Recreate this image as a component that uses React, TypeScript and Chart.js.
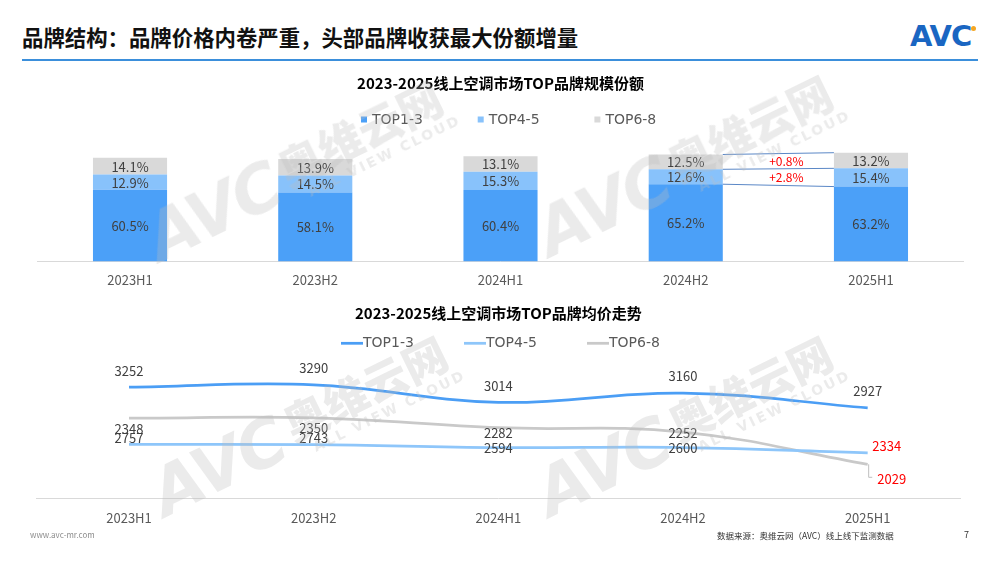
import React, { useEffect, useRef } from "react";
import { Chart, registerables } from "chart.js";

Chart.register(...registerables);

const FONT = "'Noto Sans CJK SC', 'Noto Sans', sans-serif";
const LEGEND_FONT = "'DejaVu Sans', 'Noto Sans', sans-serif";

// ---------- data ----------
const CATEGORIES = ["2023H1", "2023H2", "2024H1", "2024H2", "2025H1"];
const SERIES_NAMES = ["TOP1-3", "TOP4-5", "TOP6-8"];

const SHARE_TOP1_3 = [60.5, 58.1, 60.4, 65.2, 63.2];
const SHARE_TOP4_5 = [12.9, 14.5, 15.3, 12.6, 15.4];
const SHARE_TOP6_8 = [14.1, 13.9, 13.1, 12.5, 13.2];
const SHARE_CHANGE_LABELS = ["+0.8%", "+2.8%"]; // TOP6-8, TOP4-5 : 2024H2 -> 2025H1

const PRICE_TOP1_3 = [3252, 3290, 3014, 3160, 2927];
const PRICE_TOP4_5 = [2757, 2743, 2594, 2600, 2334];
const PRICE_TOP6_8 = [2348, 2350, 2282, 2252, 2029];

const BAR_TITLE = "2023-2025线上空调市场TOP品牌规模份额";
const LINE_TITLE = "2023-2025线上空调市场TOP品牌均价走势";
const PAGE_TITLE = "品牌结构：品牌价格内卷严重，头部品牌收获最大份额增量";
const SOURCE_TEXT = "数据来源：奥维云网（AVC）线上线下监测数据";

// ---------- styles ----------
const BAR_COLORS = ["#4BA0F8", "#88C2FB", "#D9D9D9"];
const LINE_COLORS = ["#4B9EF5", "#8EC6FA", "#C9C9C9"];
const LABEL_COLOR = "#404040";
const AXIS_LABEL_COLOR = "#595959";

const LINE_LABEL_STYLES = [
  { dx: [0, 0, 0, 0, 0], dy: [-17, -17, -17, -17, -17], colors: [LABEL_COLOR, LABEL_COLOR, LABEL_COLOR, LABEL_COLOR, LABEL_COLOR], leader: [false, false, false, false, false] },
  { dx: [0, 0, 0, 0, 19], dy: [-7, -7, 0, 0, -7], colors: [LABEL_COLOR, LABEL_COLOR, LABEL_COLOR, LABEL_COLOR, "#FF0000"], leader: [false, false, false, false, false] },
  { dx: [0, 0, 0, 0, 24], dy: [10, 10, 5, 1, 14], colors: [LABEL_COLOR, LABEL_COLOR, LABEL_COLOR, LABEL_COLOR, "#FF0000"], leader: [false, false, false, false, true] },
];

// ---------- plugins ----------
const customLegend = {
  id: "customLegend",
  afterDraw(chart: any, _args: any, opts: any) {
    const { ctx } = chart;
    ctx.save();
    ctx.font = `${opts.fontSize}px ${LEGEND_FONT}`;
    ctx.textBaseline = "middle";
    ctx.textAlign = "left";
    chart.data.datasets.forEach((ds: any, i: number) => {
      const x = opts.startX + i * opts.pitch;
      const y = opts.y;
      if (opts.kind === "box") {
        ctx.fillStyle = ds.backgroundColor;
        ctx.fillRect(x, y - opts.box / 2, opts.box, opts.box);
      } else {
        ctx.strokeStyle = ds.borderColor;
        ctx.lineWidth = opts.lineWidth;
        ctx.beginPath();
        ctx.moveTo(x, y);
        ctx.lineTo(x + opts.lineLen, y);
        ctx.stroke();
      }
      ctx.fillStyle = opts.color;
      ctx.fillText(ds.label, x + opts.textOffset, y + 0.5);
    });
    ctx.restore();
  },
};

const barValueLabels = {
  id: "barValueLabels",
  afterDatasetsDraw(chart: any, _args: any, opts: any) {
    const { ctx } = chart;
    ctx.save();
    ctx.font = `${opts.fontSize}px ${FONT}`;
    ctx.fillStyle = opts.color;
    ctx.textAlign = "center";
    ctx.textBaseline = "middle";
    chart.data.datasets.forEach((ds: any, di: number) => {
      const meta = chart.getDatasetMeta(di);
      meta.data.forEach((el: any, i: number) => {
        ctx.fillText(Number(ds.data[i]).toFixed(1) + "%", el.x, (el.y + el.base) / 2 + 0.5);
      });
    });
    ctx.restore();
  },
};

const shareChange = {
  id: "shareChange",
  afterDatasetsDraw(chart: any, _args: any, opts: any) {
    const { ctx } = chart;
    const n = chart.data.labels.length;
    const a = n - 2;
    const b = n - 1;
    const metas = chart.data.datasets.map((_: any, di: number) => chart.getDatasetMeta(di));
    const ea = metas.map((m: any) => m.data[a]);
    const eb = metas.map((m: any) => m.data[b]);
    const xa = ea[0].x + ea[0].width / 2;
    const xb = eb[0].x - eb[0].width / 2;
    ctx.save();
    ctx.strokeStyle = opts.lineColor;
    ctx.lineWidth = 1;
    for (let di = 0; di < metas.length; di++) {
      ctx.beginPath();
      ctx.moveTo(xa, ea[di].y);
      ctx.lineTo(xb, eb[di].y);
      ctx.stroke();
    }
    ctx.font = `${opts.fontSize}px ${FONT}`;
    ctx.fillStyle = opts.color;
    ctx.textAlign = "center";
    ctx.textBaseline = "middle";
    const bands = [2, 1];
    bands.forEach((di, k) => {
      const yTop = (ea[di].y + eb[di].y) / 2;
      const yBot = (ea[di].base + eb[di].base) / 2;
      ctx.fillText(opts.labels[k], (xa + xb) / 2 + opts.dx, (yTop + yBot) / 2 + 0.5);
    });
    ctx.restore();
  },
};

const lineValueLabels = {
  id: "lineValueLabels",
  afterDatasetsDraw(chart: any, _args: any, opts: any) {
    const { ctx } = chart;
    ctx.save();
    ctx.font = `${opts.fontSize}px ${FONT}`;
    ctx.textAlign = "center";
    ctx.textBaseline = "middle";
    chart.data.datasets.forEach((ds: any, di: number) => {
      const st = opts.styles[di];
      const meta = chart.getDatasetMeta(di);
      meta.data.forEach((pt: any, i: number) => {
        const text = String(ds.data[i]);
        const x = pt.x + st.dx[i];
        const y = pt.y + st.dy[i];
        if (st.leader[i]) {
          const w = ctx.measureText(text).width;
          ctx.strokeStyle = opts.leaderColor;
          ctx.lineWidth = 1;
          ctx.beginPath();
          ctx.moveTo(pt.x + 1, pt.y);
          ctx.lineTo(pt.x + 1, y - 1);
          ctx.lineTo(x - w / 2 - 5, y - 1);
          ctx.stroke();
        }
        ctx.fillStyle = st.colors[i];
        ctx.fillText(text, x, y + 0.5);
      });
    });
    ctx.restore();
  },
};

// ---------- charts ----------
function BarChart() {
  const ref = useRef<HTMLCanvasElement | null>(null);
  useEffect(() => {
    const chart = new Chart(ref.current as HTMLCanvasElement, {
      type: "bar",
      data: {
        labels: CATEGORIES,
        datasets: [
          { label: SERIES_NAMES[0], data: SHARE_TOP1_3, backgroundColor: BAR_COLORS[0] },
          { label: SERIES_NAMES[1], data: SHARE_TOP4_5, backgroundColor: BAR_COLORS[1] },
          { label: SERIES_NAMES[2], data: SHARE_TOP6_8, backgroundColor: BAR_COLORS[2] },
        ],
      },
      options: {
        animation: false,
        responsive: false,
        events: [],
        layout: { padding: { left: 37.4, right: 36.4, top: 0, bottom: 0 } },
        datasets: { bar: { barPercentage: 0.4, categoryPercentage: 1 } },
        scales: {
          x: {
            stacked: true,
            grid: { display: false, drawTicks: false },
            border: { display: true, color: "#D9D9D9", width: 1 },
            ticks: { padding: 11, color: AXIS_LABEL_COLOR, font: { size: 13, family: FONT } },
          },
          y: { stacked: true, display: false, min: 0, max: 100 },
        },
        plugins: {
          legend: { display: false },
          tooltip: { enabled: false },
          title: {
            display: true,
            text: BAR_TITLE,
            color: "#000000",
            font: { size: 15, weight: "bold", family: FONT },
            padding: { top: 12, bottom: 51 },
          },
          customLegend: { kind: "box", startX: 361, pitch: 116.7, y: 57.5, box: 6, textOffset: 11, fontSize: 14, color: AXIS_LABEL_COLOR },
          barValueLabels: { fontSize: 13, color: LABEL_COLOR },
          shareChange: { labels: SHARE_CHANGE_LABELS, lineColor: "#5A87C6", color: "#FF0000", fontSize: 12, dx: 8 },
        } as any,
      },
      plugins: [customLegend, barValueLabels, shareChange] as any,
    });
    return () => chart.destroy();
  }, []);
  return <canvas ref={ref} width={1000} height={237} style={{ position: "absolute", left: 0, top: 62, width: 1000, height: 237 }} />;
}

function LineChart() {
  const ref = useRef<HTMLCanvasElement | null>(null);
  useEffect(() => {
    const common = { borderWidth: 2.75, pointRadius: 0, tension: 0.4, fill: false };
    const chart = new Chart(ref.current as HTMLCanvasElement, {
      type: "line",
      data: {
        labels: CATEGORIES,
        datasets: [
          { ...common, label: SERIES_NAMES[0], data: PRICE_TOP1_3, borderColor: LINE_COLORS[0], yAxisID: "yA" },
          { ...common, label: SERIES_NAMES[1], data: PRICE_TOP4_5, borderColor: LINE_COLORS[1], yAxisID: "yB" },
          { ...common, label: SERIES_NAMES[2], data: PRICE_TOP6_8, borderColor: LINE_COLORS[2], yAxisID: "yC" },
        ],
      },
      options: {
        animation: false,
        responsive: false,
        events: [],
        layout: { padding: { left: 36.7, right: 40, top: 0, bottom: 0 } },
        scales: {
          x: {
            offset: true,
            grid: { display: false, drawTicks: false },
            border: { display: true, color: "#D9D9D9", width: 1 },
            ticks: { padding: 11.4, color: AXIS_LABEL_COLOR, font: { size: 13, family: FONT } },
          },
          yA: { display: false, min: 1500, max: 3680 },
          yB: { display: false, min: 57, max: 6957 },
          yC: { display: false, min: 1792, max: 2750 },
        },
        plugins: {
          legend: { display: false },
          tooltip: { enabled: false },
          title: {
            display: true,
            text: LINE_TITLE,
            color: "#000000",
            font: { size: 15, weight: "bold", family: FONT },
            padding: { top: 6, bottom: 38 },
          },
          customLegend: { kind: "line", startX: 341, pitch: 123, y: 45.3, lineLen: 22, lineWidth: 2.75, textOffset: 22, fontSize: 14, color: AXIS_LABEL_COLOR },
          lineValueLabels: { fontSize: 13, styles: LINE_LABEL_STYLES, leaderColor: "#BFBFBF" },
        } as any,
      },
      plugins: [customLegend, lineValueLabels] as any,
    });
    return () => chart.destroy();
  }, []);
  return <canvas ref={ref} width={1000} height={239} style={{ position: "absolute", left: 0, top: 298, width: 1000, height: 239 }} />;
}

function Watermark({ x, y }: { x: number; y: number }) {
  return (
    <div
      style={{
        position: "absolute",
        left: x - 170,
        top: y - 45,
        width: 340,
        height: 90,
        display: "flex",
        alignItems: "center",
        justifyContent: "center",
        transform: "rotate(-26deg)",
        color: "rgba(190,190,190,0.3)",
        pointerEvents: "none",
        whiteSpace: "nowrap",
      }}
    >
      <span style={{ fontFamily: "'DejaVu Sans', sans-serif", fontWeight: 900, fontStyle: "italic", fontSize: 66, letterSpacing: -2, lineHeight: "70px" }}>AVC</span>
      <div style={{ display: "flex", flexDirection: "column", marginLeft: 8 }}>
        <span style={{ fontFamily: FONT, fontWeight: 900, fontSize: 44, lineHeight: "48px" }}>奥维云网</span>
        <span style={{ fontFamily: "'DejaVu Sans', sans-serif", fontWeight: 700, fontSize: 14, letterSpacing: 2.5, lineHeight: "16px", marginLeft: 16 }}>ALL VIEW CLOUD</span>
      </div>
    </div>
  );
}

export default function App() {
  return (
    <div style={{ position: "fixed", left: 0, top: 0, width: 1000, height: 564, background: "#FFFFFF", overflow: "hidden", fontFamily: FONT }}>
      <div style={{ position: "absolute", left: 22, top: 25, fontSize: 21.4, lineHeight: "24px", fontWeight: 700, color: "#111111", whiteSpace: "nowrap" }}>{PAGE_TITLE}</div>
      <div style={{ position: "absolute", left: 910, top: 20, fontFamily: "'DejaVu Sans', sans-serif", fontSize: 29, lineHeight: "32px", fontWeight: 900, color: "#1A66C2", letterSpacing: -1 }}>AVC</div>
      <div style={{ position: "absolute", left: 971, top: 26, width: 5, height: 5, borderRadius: 3, background: "#F5A623" }} />
      <div style={{ position: "absolute", left: 22, top: 59, width: 956, height: 2, background: "#3B8FDB" }} />

      <BarChart />
      <LineChart />

      <Watermark x={300} y={170} />
      <Watermark x={690} y={165} />
      <Watermark x={305} y={425} />
      <Watermark x={690} y={425} />

      <div style={{ position: "absolute", left: 30, top: 529, fontSize: 8, lineHeight: "12px", color: "#8C8C8C" }}>www.avc-mr.com</div>
      <div style={{ position: "absolute", left: 717, top: 528, fontSize: 8.5, lineHeight: "14px", color: "#333333", whiteSpace: "nowrap" }}>{SOURCE_TEXT}</div>
      <div style={{ position: "absolute", left: 964, top: 528, fontSize: 9, lineHeight: "14px", color: "#333333" }}>7</div>
    </div>
  );
}
